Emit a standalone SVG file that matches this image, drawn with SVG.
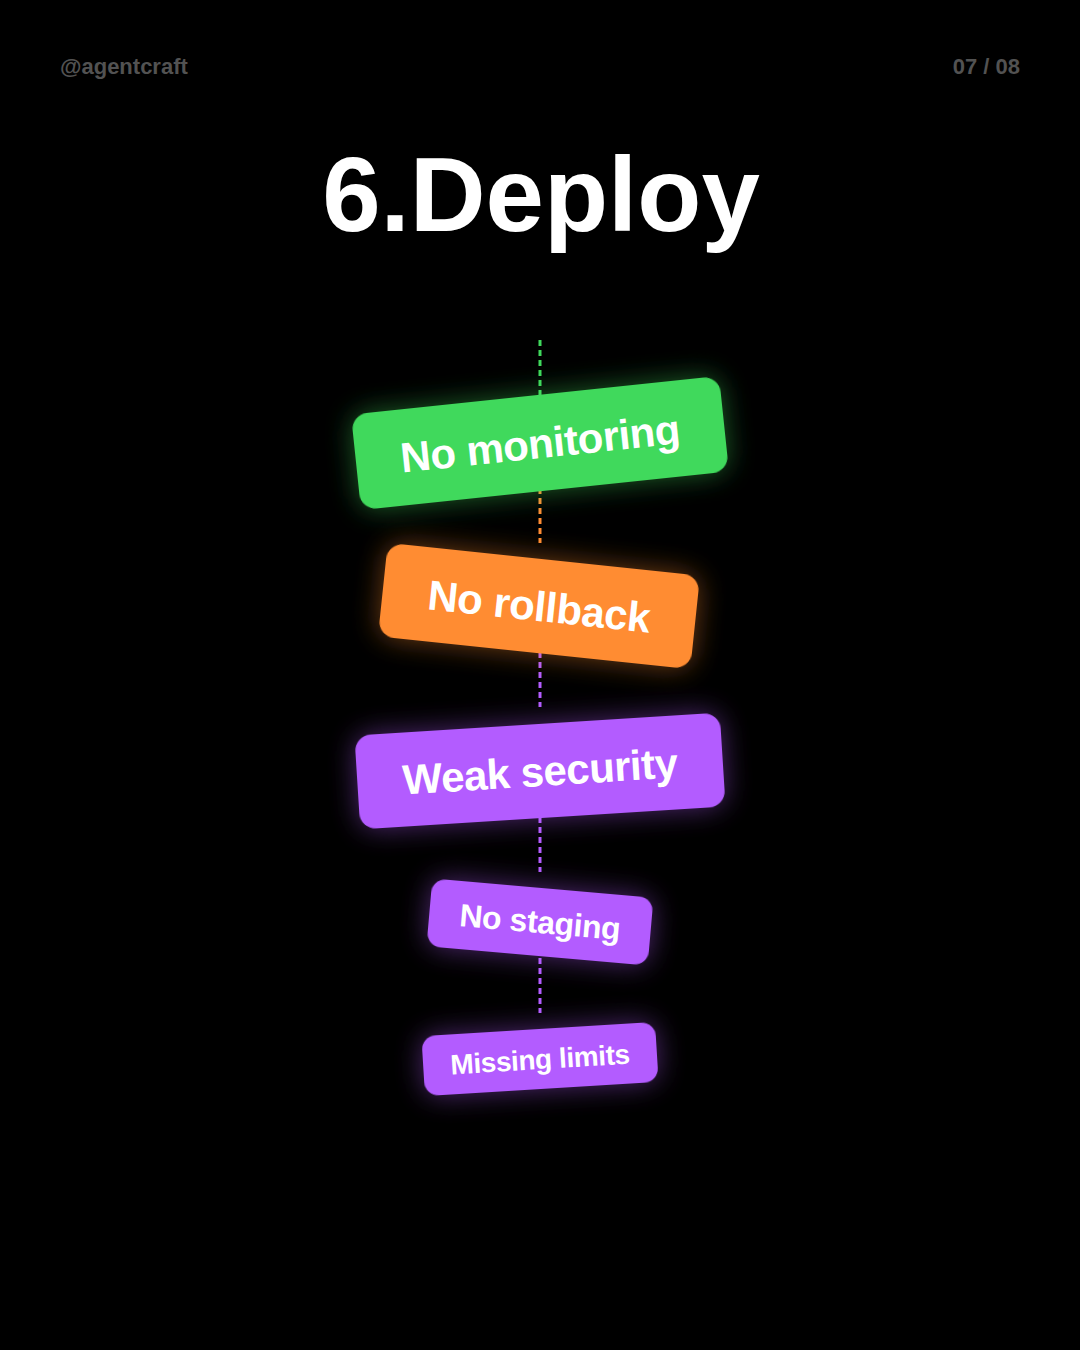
<svg xmlns="http://www.w3.org/2000/svg" width="1080" height="1350" viewBox="0 0 1080 1350">
<defs>
<style>
.hdr{font-family:"Liberation Sans",Arial,sans-serif;font-weight:700;font-size:22px;fill:#525252}
.title{font-family:"Liberation Sans",Arial,sans-serif;font-weight:700;font-size:105px;fill:#ffffff}
.lbl{font-family:"Liberation Sans",Arial,sans-serif;font-weight:700;fill:#ffffff;text-anchor:middle}
.big{font-size:42px;letter-spacing:-0.5px}
.mid{font-size:32px;letter-spacing:-0.4px}
.sml{font-size:28px;letter-spacing:-0.4px}
.dash{stroke-width:3;stroke-dasharray:6 4;fill:none}
.g{fill:#3fd95c}
.o{fill:#ff8c33}
.p{fill:#b35cff}
</style>
<filter id="glow" x="-30%" y="-60%" width="160%" height="220%">
<feGaussianBlur in="SourceGraphic" stdDeviation="14" result="b"/>
<feComponentTransfer in="b" result="bf"><feFuncA type="linear" slope="0.45"/></feComponentTransfer>
<feMerge><feMergeNode in="bf"/><feMergeNode in="SourceGraphic"/></feMerge>
</filter>
</defs>
<rect x="0" y="0" width="1080" height="1350" fill="#000000"/>
<text class="hdr" x="60" y="74">@agentcraft</text>
<text class="hdr" x="1020" y="74" text-anchor="end">07 / 08</text>
<text class="title" x="541" y="231" text-anchor="middle">6.Deploy</text>
<g id="connectors">
<line class="dash" x1="540" y1="340" x2="540" y2="400" stroke="#3fd95c"/>
<line class="dash" x1="540" y1="488" x2="540" y2="543" stroke="#ff8c33"/>
<line class="dash" x1="540" y1="652" x2="540" y2="707" stroke="#b35cff"/>
<line class="dash" x1="540" y1="817" x2="540" y2="872" stroke="#b35cff"/>
<line class="dash" x1="540" y1="958" x2="540" y2="1013" stroke="#b35cff"/>
</g>
<g id="node-no-monitoring" transform="translate(540 443) rotate(-6)">
<rect class="g" x="-185" y="-48" width="370" height="96" rx="16" filter="url(#glow)"/>
<text class="lbl big" x="0" y="15">No monitoring</text>
</g>
<g id="node-no-rollback" transform="translate(539 606) rotate(6)">
<rect class="o" x="-157" y="-47" width="314" height="94" rx="16" filter="url(#glow)"/>
<text class="lbl big" x="0" y="15">No rollback</text>
</g>
<g id="node-weak-security" transform="translate(540 771) rotate(-3.6)">
<rect class="p" x="-183" y="-47" width="366" height="94" rx="16" filter="url(#glow)"/>
<text class="lbl big" x="0" y="15">Weak security</text>
</g>
<g id="node-no-staging" transform="translate(540 922) rotate(5)">
<rect class="p" x="-111" y="-34" width="222" height="68" rx="14" filter="url(#glow)"/>
<text class="lbl mid" x="0" y="11">No staging</text>
</g>
<g id="node-missing-limits" transform="translate(540 1059) rotate(-3.5)">
<rect class="p" x="-117" y="-30" width="234" height="60" rx="14" filter="url(#glow)"/>
<text class="lbl sml" x="0" y="10">Missing limits</text>
</g>
</svg>
